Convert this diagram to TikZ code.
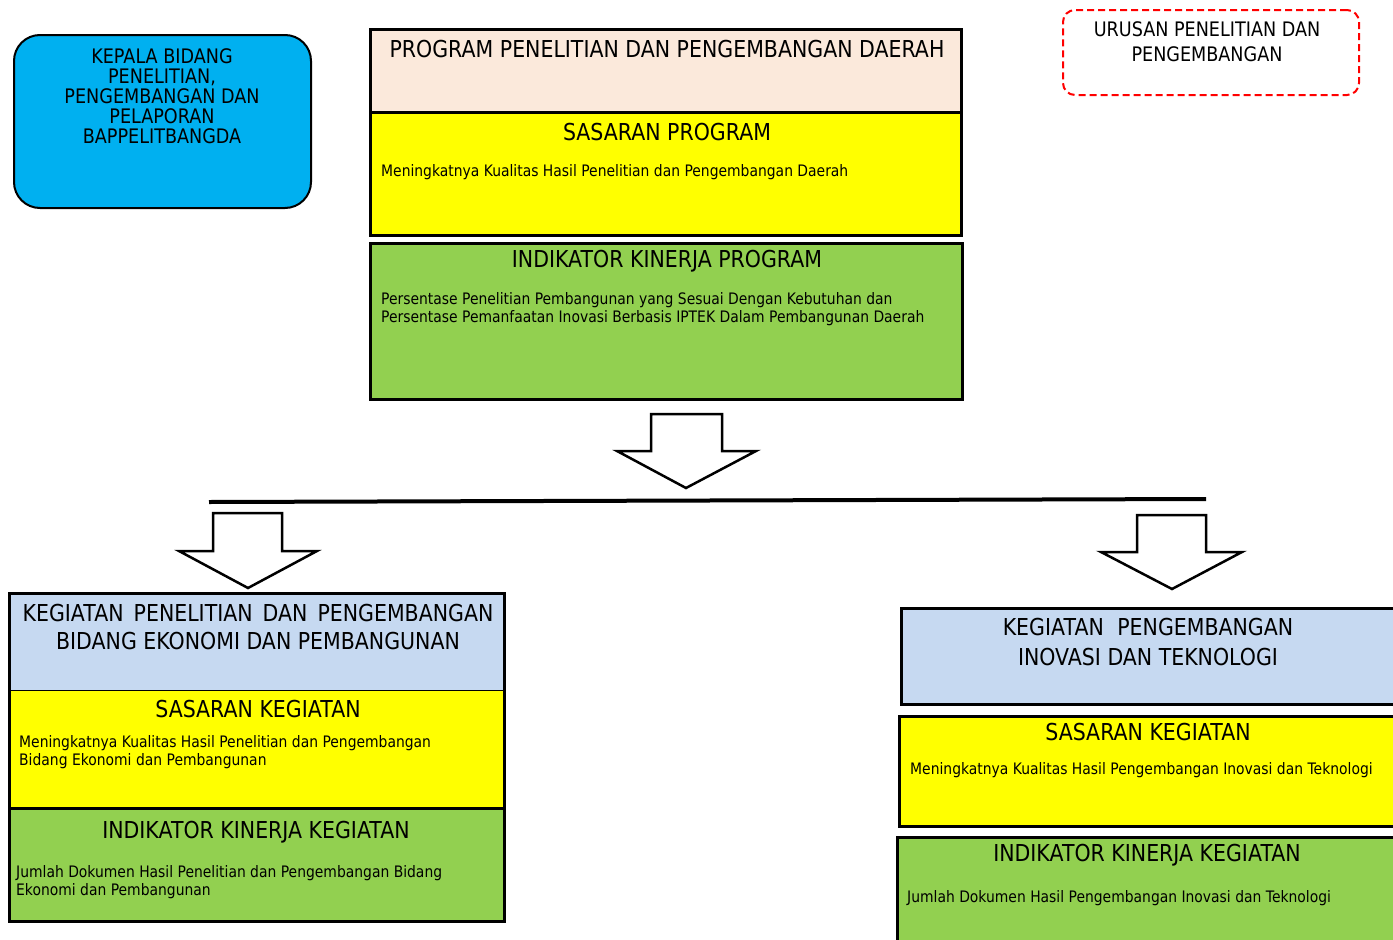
\documentclass[tikz,border=0pt]{standalone}
\usepackage{fontspec}
\setmainfont{DejaVu Sans}[FakeStretch=0.88]
\definecolor{cblue}{HTML}{00B0F0}
\definecolor{cpeach}{HTML}{FBE9DB}
\definecolor{cyel}{HTML}{FFFF00}
\definecolor{cgreen}{HTML}{92D050}
\definecolor{clblue}{HTML}{C6D9F1}
\definecolor{cred}{HTML}{FF0000}
\tikzset{
  fillbox/.style={inner sep=0pt, outer sep=0pt, anchor=north west},
  frame/.style={draw=black, line width=3pt},
  ttl/.style={font=\fontsize{23.3}{28}\selectfont, inner sep=0pt, align=center},
  body/.style={font=\fontsize{15.8}{17.8}\selectfont, inner sep=0pt, anchor=west, align=left},
  blockarrow/.style={draw=black, fill=white, line width=2.5pt, line join=miter},
}
\begin{document}
\begin{tikzpicture}[x=1pt,y=-1pt]
\useasboundingbox (0,0) rectangle (1393,940);
\fill[white] (0,0) rectangle (1393,940);

% Kepala bidang
\node[fillbox, draw=black, line width=2pt, rounded corners=26pt, fill=cblue,
      minimum width=297pt, minimum height=173pt] (kepala) at (14,35) {};
\node[inner sep=0pt, align=center, font=\fontsize{20}{20}\selectfont] (kepalat) at (162,96)
  {KEPALA BIDANG\\PENELITIAN,\\PENGEMBANGAN DAN\\PELAPORAN\\BAPPELITBANGDA};

% Urusan
\node[fillbox, draw=cred, line width=2pt, dash pattern=on 7pt off 4pt, rounded corners=12pt,
      minimum width=296pt, minimum height=85pt] (urusan) at (1063,10) {};
\node[inner sep=0pt, align=center, font=\fontsize{20}{25}\selectfont] (urusant) at (1207,42)
  {URUSAN PENELITIAN DAN\\PENGEMBANGAN};

% Program block
\node[fillbox, fill=cpeach, minimum width=591pt, minimum height=83pt] (prog) at (370,29) {};
\node[fillbox, fill=cyel, minimum width=591pt, minimum height=123pt] (psas) at (370,112) {};
\draw[frame] (prog.north west) rectangle (psas.south east);
\draw[frame] (prog.south west) -- (prog.south east);
\node[ttl] (progt) at (667,49) {PROGRAM PENELITIAN DAN PENGEMBANGAN DAERAH};
\node[ttl] (psast) at (667,132) {SASARAN PROGRAM};
\node[body] (psasb) at (381,172) {Meningkatnya Kualitas Hasil Penelitian dan Pengembangan Daerah};

\node[fillbox, fill=cgreen, frame, minimum width=592pt, minimum height=156pt] (pind) at (370,243) {};
\node[ttl] (pindt) at (667,261) {INDIKATOR KINERJA PROGRAM};
\node[body] (pindb) at (381,309) {Persentase Penelitian Pembangunan yang Sesuai Dengan Kebutuhan dan\\Persentase Pemanfaatan Inovasi Berbasis IPTEK Dalam Pembangunan Daerah};

% central arrow
\draw[blockarrow] (651,414) -- (722,414) -- (722,451) -- (756,451) -- (686,488) -- (617,451) -- (651,451) -- cycle;

% horizontal line
\coordinate (hl) at (209,502);
\coordinate (hr) at (1206,499);
\draw[line width=4pt] (hl) -- (hr);

% side arrows
\draw[blockarrow] (213,513) -- (282,513) -- (282,551) -- (317,551) -- (248,588) -- (179,551) -- (213,551) -- cycle;
\draw[blockarrow] (1137,515) -- (1206,515) -- (1206,552) -- (1242,552) -- (1172,589) -- (1101,552) -- (1137,552) -- cycle;

% Left block
\node[fillbox, fill=clblue, minimum width=495pt, minimum height=97pt] (lkeg) at (9,593) {};
\node[fillbox, fill=cyel, minimum width=495pt, minimum height=118pt] (lsas) at (9,690) {};
\node[fillbox, fill=cgreen, minimum width=495pt, minimum height=113pt] (lind) at (9,808) {};
\draw[frame] (lkeg.north west) rectangle (lind.south east);
\draw[line width=1pt] (lkeg.south west) -- (lkeg.south east);
\draw[frame] (lsas.south west) -- (lsas.south east);
\node[ttl, font=\fontsize{23.3}{28}\selectfont] (lkegt) at (258,627)
  {KEGIATAN\hspace{0.15em} PENELITIAN\hspace{0.15em} DAN\hspace{0.15em} PENGEMBANGAN\\BIDANG EKONOMI DAN PEMBANGUNAN};
\node[ttl] (lsast) at (258,709) {SASARAN KEGIATAN};
\node[body] (lsasb) at (19,752) {Meningkatnya Kualitas Hasil Penelitian dan Pengembangan\\Bidang Ekonomi dan Pembangunan};
\node[ttl] (lindt) at (256,832) {INDIKATOR KINERJA KEGIATAN};
\node[body] (lindb) at (16,882) {Jumlah Dokumen Hasil Penelitian dan Pengembangan Bidang\\Ekonomi dan Pembangunan};

% Right block
\node[fillbox, fill=clblue, frame, minimum width=520pt, minimum height=96pt] (rkeg) at (901,608) {};
\node[ttl, font=\fontsize{23.3}{30}\selectfont] (rkegt) at (1148,642)
  {KEGIATAN\hspace{0.3em} PENGEMBANGAN\\INOVASI DAN TEKNOLOGI};
\node[fillbox, fill=cyel, frame, minimum width=520pt, minimum height=110pt] (rsas) at (899,716) {};
\node[ttl] (rsast) at (1148,732) {SASARAN KEGIATAN};
\node[body] (rsasb) at (910,770) {Meningkatnya Kualitas Hasil Pengembangan Inovasi dan Teknologi};
\node[fillbox, fill=cgreen, frame, minimum width=520pt, minimum height=130pt] (rind) at (897,837) {};
\node[ttl] (rindt) at (1147,855) {INDIKATOR KINERJA KEGIATAN};
\node[body] (rindb) at (907,898) {Jumlah Dokumen Hasil Pengembangan Inovasi dan Teknologi};
\end{tikzpicture}
\end{document}
